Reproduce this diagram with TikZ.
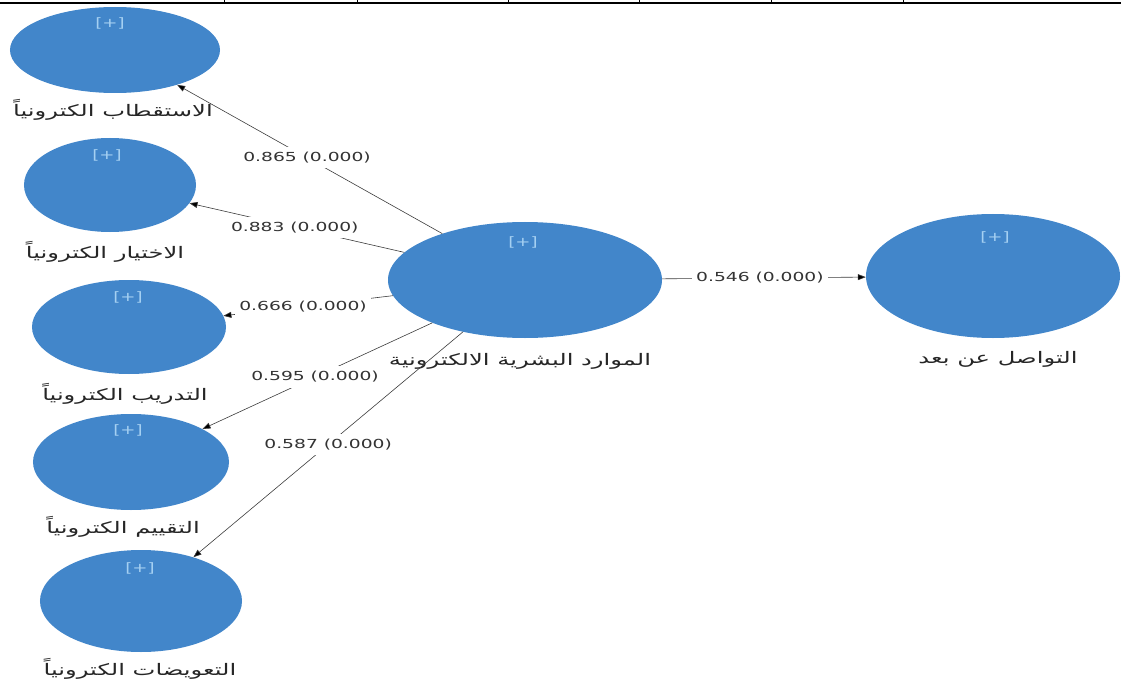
\documentclass[tikz,border=0pt]{standalone}
\usepackage{fontspec}
\setmainfont{DejaVu Sans}
\newfontfamily\arabicfont[Script=Arabic]{DejaVu Sans}
\TeXXeTstate=1
\usetikzlibrary{shapes.geometric,arrows.meta}
\definecolor{lvblue}{RGB}{66,134,202}
\definecolor{plusblue}{RGB}{165,208,242}
\definecolor{linegray}{RGB}{60,60,60}
\begin{document}
\begin{tikzpicture}[x=1bp,y=-1bp,
  lv/.style={ellipse,fill=lvblue,inner sep=0pt},
  plus/.style={text=plusblue,font=\fontsize{13}{15}\selectfont,xscale=1.4,inner sep=0pt},
  namelabel/.style={font=\arabicfont\fontsize{16}{18}\selectfont,xscale=1.52,text=black!85,inner sep=0pt},
  coef/.style={fill=white,font=\fontsize{12.5}{14}\selectfont,xscale=1.5,inner xsep=3bp,inner ysep=5bp,text=black!80},
  pathline/.style={draw=linegray,line width=0.6bp,-{Triangle[length=8bp,width=6bp,fill=black]}}
]
\useasboundingbox (0,0) rectangle (1121,682);
% top border
\draw[line width=1.5bp] (0,3) -- (1121,3);
\foreach \x in {224,357,508,639,771,903} \draw[line width=1bp] (\x,0) -- (\x,3);

% latent variables
\node[lv,minimum width=210bp,minimum height=86bp] (a1) at (115,50) {};
\node[lv,minimum width=172bp,minimum height=94bp] (a2) at (110,185) {};
\node[lv,minimum width=194bp,minimum height=94bp] (a3) at (129,327) {};
\node[lv,minimum width=196bp,minimum height=96bp] (a4) at (131,462) {};
\node[lv,minimum width=202bp,minimum height=102bp] (a5) at (141,601) {};
\node[lv,minimum width=274bp,minimum height=116bp] (c) at (525,280) {};
\node[lv,minimum width=254bp,minimum height=124bp] (r) at (993,276) {};

% [+] markers
\node[plus] (p1) at (110,23) {[+]};
\node[plus] (p2) at (107,155) {[+]};
\node[plus] (p3) at (128,297) {[+]};
\node[plus] (p4) at (128,430) {[+]};
\node[plus] (p5) at (140,568) {[+]};
\node[plus] (pc) at (523,242) {[+]};
\node[plus] (pr) at (995,237) {[+]};

% names
\node[namelabel] (n1) at (113,110) {\beginR الاستقطاب الكترونياً\endR};
\node[namelabel] (n2) at (105,252) {\beginR الاختيار الكترونياً\endR};
\node[namelabel] (n3) at (125,394) {\beginR التدريب الكترونياً\endR};
\node[namelabel] (n4) at (123,527) {\beginR التقييم الكترونياً\endR};
\node[namelabel] (n5) at (140,669) {\beginR التعويضات الكترونياً\endR};
\node[namelabel] (nc) at (520,361) {\beginR الموارد البشرية الالكترونية\endR};
\node[namelabel] (nr) at (998,359) {\beginR التواصل عن بعد\endR};

% paths
\draw[pathline] (c) -- node[coef,pos=0.51]{0.865 (0.000)} (a1);
\draw[pathline] (c) -- node[coef,pos=0.51]{0.883 (0.000)} (a2);
\draw[pathline] (c) -- node[coef,pos=0.53]{0.666 (0.000)} (a3);
\draw[pathline] (c) -- node[coef,pos=0.51]{0.595 (0.000)} (a4);
\draw[pathline] (c) -- node[coef,pos=0.5]{0.587 (0.000)} (a5);
\draw[pathline] (c) -- node[coef,pos=0.48]{0.546 (0.000)} (r);
\end{tikzpicture}
\end{document}
